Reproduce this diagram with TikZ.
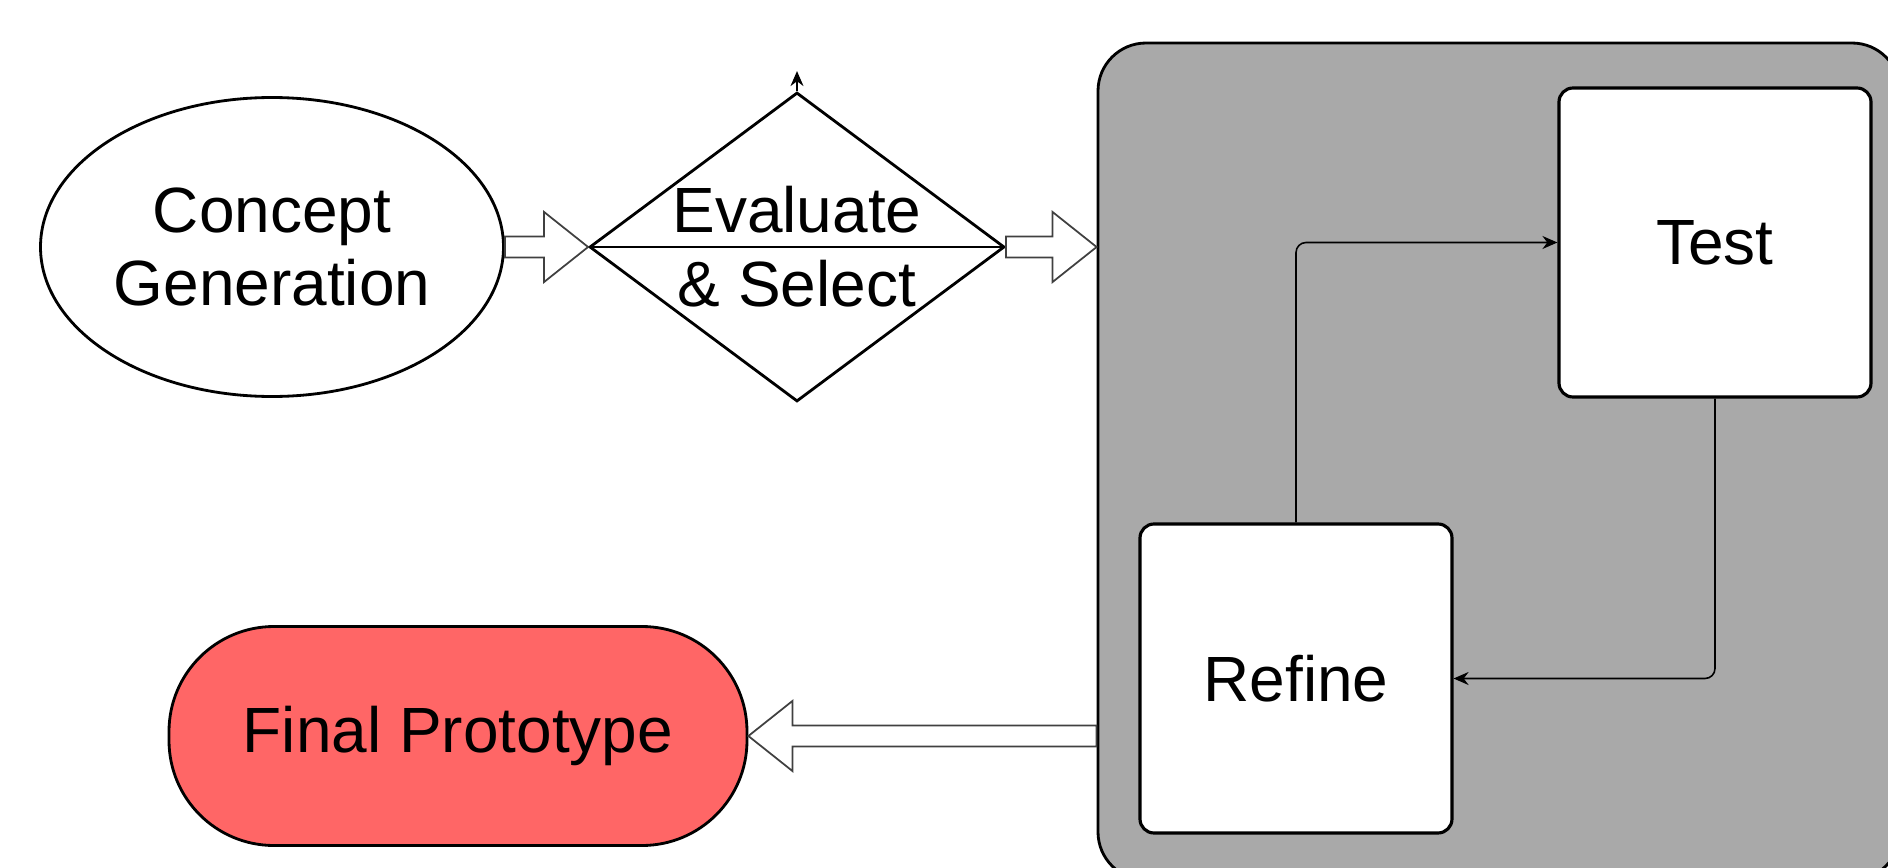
\documentclass[tikz,border=0pt]{standalone}
\usepackage{fontspec}
\setmainfont{Liberation Sans}
\usetikzlibrary{arrows.meta, calc, positioning, shapes.geometric}
\definecolor{loopgray}{HTML}{A9A9A9}
\definecolor{finalred}{HTML}{FF6666}

\begin{document}
\begin{tikzpicture}[
    x=0.1mm,
    y=-0.1mm,
    font=\fontsize{18.2}{21}\selectfont,
    ideabox/.style={
        ellipse,
        draw=black,
        fill=white,
        line width=0.8pt,
        minimum width=46.3mm,
        minimum height=29.9mm,
        align=center,
        inner sep=0pt
    },
    decisionbox/.style={
        diamond,
        draw=black,
        fill=white,
        line width=0.8pt,
        minimum width=41.5mm,
        minimum height=30.9mm,
        inner sep=0pt
    },
    loopbox/.style={
        draw=black,
        fill=loopgray,
        rounded corners=4.8mm,
        line width=0.8pt,
        minimum width=80.2mm,
        minimum height=83.7mm
    },
    stagebox/.style={
        draw=black,
        fill=white,
        rounded corners=1.4mm,
        line width=0.9pt,
        minimum width=31.2mm,
        minimum height=30.9mm,
        align=center
    },
    resultbox/.style={
        draw=black,
        fill=finalred,
        rounded corners=10.5mm,
        line width=0.8pt,
        minimum width=57.8mm,
        minimum height=21.9mm,
        align=center
    },
    arr/.style={
        -{Stealth[length=1.5mm, width=1.3mm]},
        draw=black,
        line width=0.45pt,
        rounded corners=1mm
    },
    blockarr/.style={
        draw=black!75,
        fill=white,
        line width=0.5pt,
        to path={
            let \p1=(\tikztostart), \p2=(\tikztotarget),
                \n1={sign(\x2-\x1)} in
            (\x1,{\y1+1.05mm}) -- ({\x2-4.4mm*\n1},{\y1+1.05mm})
            -- ({\x2-4.4mm*\n1},{\y1+3.5mm}) -- (\x2,\y1)
            -- ({\x2-4.4mm*\n1},{\y1-3.5mm}) -- ({\x2-4.4mm*\n1},{\y1-1.05mm})
            -- (\x1,{\y1-1.05mm}) -- cycle
        }
    }
]

\useasboundingbox (0,0) rectangle (1888,868);
\clip (0,0) rectangle (1888,868);

% -----------------------------------------------------
% Nodes
% -----------------------------------------------------

\node[loopbox] (loop) at (1499,461.5) {};

\node[ideabox] (concept) at (272,247)
{
    Concept\\
    Generation
};

\node[decisionbox, label={[align=center]center:Evaluate\\\& Select}] (evaluate) at (797,247) {};
\draw[line width=0.8pt] (evaluate.west) -- (evaluate.east);

\node[stagebox] (test) at (1715,242.5) {Test};

\node[stagebox] (refine) at (1296,678.5) {Refine};

\node[resultbox] (final) at (458,736) {Final Prototype};

% -----------------------------------------------------
% Main flow
% -----------------------------------------------------

\draw[blockarr] (concept.east) to (evaluate.west);
\draw[blockarr] (evaluate.east) to (evaluate.east -| loop.west);
\draw[blockarr] (final.east -| loop.west) to (final.east);

\coordinate[above=2mm of evaluate.north] (evaltip);
\draw[arr] (evaluate.north) -- (evaltip);

% Test / refine loop
\draw[arr] (refine.north) |- (test.west);
\draw[arr] (test.south) |- (refine.east);

\end{tikzpicture}
\end{document}
